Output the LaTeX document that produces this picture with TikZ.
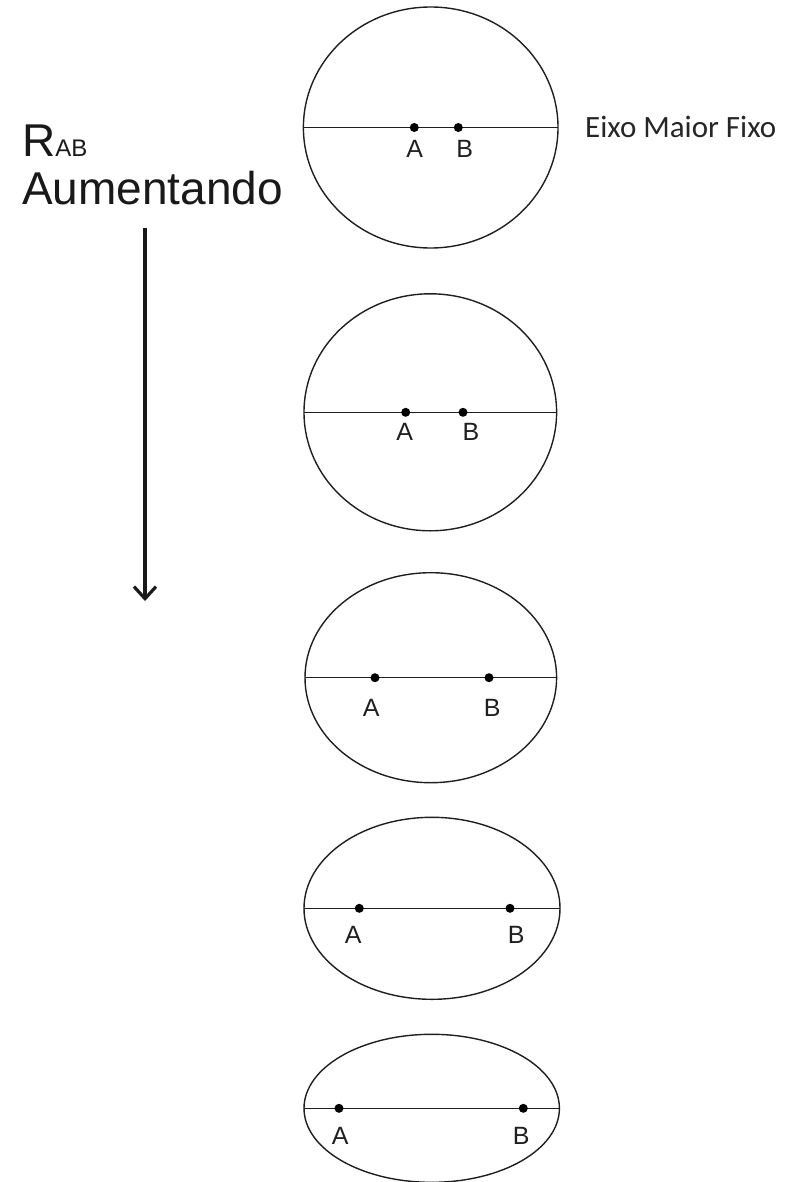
\documentclass[tikz,border=0pt]{standalone}
\usepackage{fontspec}
\setmainfont{Liberation Sans}
\newfontfamily\carlito{Carlito}
\usetikzlibrary{shapes.geometric,arrows.meta}
\begin{document}
\begin{tikzpicture}[x=1pt,y=-1pt,
  ell/.style={draw=black!88,line width=1.4pt,ellipse,inner sep=0pt,outer sep=0pt},
  axisline/.style={draw=black!88,line width=1.4pt},
  focus/.style={circle,fill=black,inner sep=0pt,minimum size=9pt},
  flabel/.style={anchor=base,inner sep=0pt,font=\fontsize{25}{25}\selectfont,text=black!88},
  bigtxt/.style={anchor=base west,inner sep=0pt,text=black!90}]
\useasboundingbox (0,0) rectangle (784,1182);
\foreach \i/\cx/\cy/\w/\h/\ax/\bx/\lax/\lbx/\ly in {
  1/430.7/127.5/254.6/241/414.3/458.3/414.7/464.7/158,
  2/430.3/412.3/252.6/237/405.7/463/404.7/471/440.7,
  3/430.8/677.7/251.6/210/375/489/371.3/492.2/716,
  4/432/908.3/256/182/359.3/510/353.3/516.3/943,
  5/431.7/1108.3/255.4/148/339/523.3/340.3/521.3/1144}{
  \node[ell,minimum width=\w pt,minimum height=\h pt] (e\i) at (\cx,\cy) {};
  \draw[axisline] (e\i.west) -- (e\i.east);
  \node[focus] (a\i) at (\ax,\cy) {};
  \node[focus] (b\i) at (\bx,\cy) {};
  \node[flabel] (la\i) at (\lax,\ly) {A};
  \node[flabel] (lb\i) at (\lbx,\ly) {B};
}
\node[bigtxt] (rab) at (22,157) {\fontsize{46}{46}\selectfont R\fontsize{24}{24}\selectfont AB};
\node[bigtxt] (aum) at (22,205) {\fontsize{46}{46}\selectfont Aumentando};
\node[bigtxt,text=black!85] (eixo) at (585,138) {\carlito\fontsize{31}{31}\selectfont Eixo Maior Fixo};
\coordinate (arrtop) at (145,228);
\coordinate (arrbot) at (145,601);
\draw[line width=3.2pt,black!90,-{Straight Barb[length=12pt,width=22pt,line width=3.2pt]}] (arrtop) -- (arrbot);
\end{tikzpicture}
\end{document}
